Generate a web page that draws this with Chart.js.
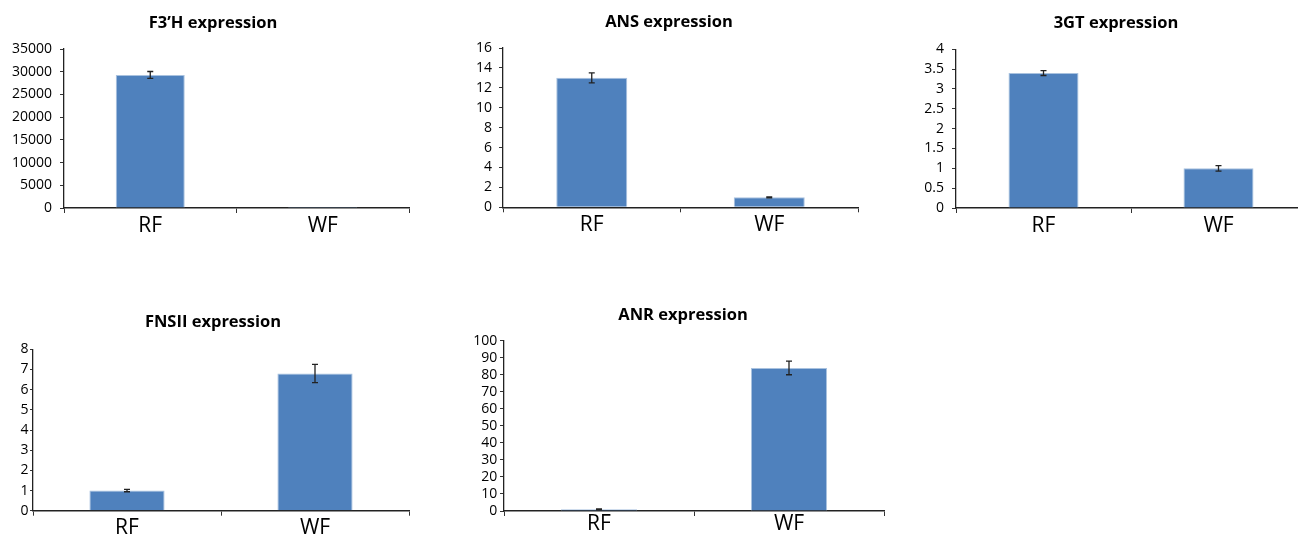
<!DOCTYPE html>
<html>
<head>
<meta charset="utf-8">
<script src="https://cdn.jsdelivr.net/npm/chart.js@4"></script>
<style>
  html, body { margin: 0; padding: 0; background: #fff; overflow: hidden; width: 1298px; height: 534px; }
  canvas { position: absolute; }
</style>
</head>
<body>
<canvas id="f3h"></canvas>
<canvas id="ans"></canvas>
<canvas id="gt3"></canvas>
<canvas id="fns"></canvas>
<canvas id="anr"></canvas>
<script>
// data (relative expression, WF or RF = 1)
const categories = ['RF', 'WF'];

const f3hValues = [29300, 1];
const f3hErrors = [750, 0];
const f3hTicks = { max: 35000, step: 5000 };

const ansValues = [13, 1];
const ansErrors = [0.5, 0.05];
const ansTicks = { max: 16, step: 2 };

const gt3Values = [3.4, 1];
const gt3Errors = [0.06, 0.07];
const gt3Ticks = { max: 4, step: 0.5 };

const fnsValues = [1, 6.8];
const fnsErrors = [0.06, 0.45];
const fnsTicks = { max: 8, step: 1 };

const anrValues = [1, 84];
const anrErrors = [0.3, 4];
const anrTicks = { max: 100, step: 10 };

Chart.defaults.font.family = "'Open Sans', 'DejaVu Sans', sans-serif";
Chart.defaults.color = '#000';

// draws mean +/- error whiskers on top of each bar
const errorBars = {
    id: 'errorBars',
    afterDatasetsDraw: function (chart) {
        const ctx = chart.ctx;
        const y = chart.scales.y;
        const ds = chart.data.datasets[0];
        ctx.save();
        ctx.strokeStyle = '#222';
        ctx.lineWidth = 1.3;
        chart.getDatasetMeta(0).data.forEach(function (bar, i) {
            if (!ds.errors[i]) return;
            const top = y.getPixelForValue(ds.data[i] + ds.errors[i]);
            const bot = y.getPixelForValue(ds.data[i] - ds.errors[i]);
            ctx.beginPath();
            ctx.moveTo(bar.x, top);
            ctx.lineTo(bar.x, bot);
            ctx.moveTo(bar.x - 3, top);
            ctx.lineTo(bar.x + 3, top);
            ctx.moveTo(bar.x - 3, bot);
            ctx.lineTo(bar.x + 3, bot);
            ctx.stroke();
        });
        ctx.restore();
    }
};

function makeChart(id, title, values, errors, ticks, box) {
    const canvas = document.getElementById(id);
    canvas.width = box.width;
    canvas.height = box.height;
    canvas.style.left = box.left + 'px';
    canvas.style.top = box.top + 'px';

    const titleSize = 16.5;
    const titleLine = titleSize * 1.2;
    const padTop = box.titleY - box.top - titleLine / 2;
    const padBottom = box.plotT - box.top - padTop - titleLine;

    return new Chart(canvas, {
        type: 'bar',
        data: {
            labels: categories,
            datasets: [{
                data: values,
                errors: errors,
                backgroundColor: '#4F81BD',
                borderColor: '#A9C2DF',
                borderWidth: 1,
                barPercentage: 0.4,
                categoryPercentage: 1,
            }]
        },
        options: {
            responsive: false,
            animation: false,
            layout: { padding: 0 },
            plugins: {
                legend: { display: false },
                tooltip: { enabled: false },
                title: {
                    display: true,
                    text: title,
                    color: '#000',
                    font: { size: titleSize, weight: 'bold', lineHeight: 1.2 },
                    padding: { top: padTop, bottom: padBottom },
                },
            },
            scales: {
                x: {
                    grid: {
                        offset: true,
                        drawOnChartArea: false,
                        tickLength: 5,
                        color: '#333',
                    },
                    border: { color: '#222', width: 1.6 },
                    ticks: {
                        font: { size: 21, lineHeight: 1 },
                        padding: box.xPad,
                        color: '#000',
                    },
                    afterFit: function (s) { s.height = box.top + box.height - box.plotB; },
                },
                y: {
                    min: 0,
                    max: ticks.max,
                    grid: {
                        drawOnChartArea: false,
                        tickLength: box.yTick,
                        color: '#333',
                    },
                    border: { color: '#222', width: 1.3 },
                    ticks: {
                        stepSize: ticks.step,
                        autoSkip: false,
                        font: { size: 14 },
                        padding: box.yPad,
                        color: '#000',
                        callback: function (v) { return String(v); },
                    },
                    afterFit: function (s) { s.width = box.plotL - box.left; },
                },
                pad: {
                    position: 'right',
                    ticks: { display: false },
                    grid: { display: false },
                    border: { display: false },
                    afterFit: function (s) { s.width = box.left + box.width - box.plotR; },
                },
            },
        },
        plugins: [errorBars],
    });
}

makeChart('f3h', 'F3’H expression', f3hValues, f3hErrors, f3hTicks,
    { left: 5, top: 0, width: 416, height: 245, plotL: 64, plotT: 49, plotR: 409, plotB: 208, titleY: 23, xPad: 3, yTick: 4, yPad: 8 });
makeChart('ans', 'ANS expression', ansValues, ansErrors, ansTicks,
    { left: 450, top: 0, width: 438, height: 245, plotL: 503, plotT: 48, plotR: 858, plotB: 207.3, titleY: 22.7, xPad: 2, yTick: 4, yPad: 7 });
makeChart('gt3', '3GT expression', gt3Values, gt3Errors, gt3Ticks,
    { left: 918, top: 0, width: 396, height: 245, plotL: 956, plotT: 49.3, plotR: 1306, plotB: 208, titleY: 23.5, xPad: 3, yTick: 4, yPad: 8 });
makeChart('fns', 'FNSII expression', fnsValues, fnsErrors, fnsTicks,
    { left: 5, top: 300, width: 416, height: 234, plotL: 33, plotT: 349.3, plotR: 409, plotB: 510.7, titleY: 322.5, xPad: 2, yTick: 3, yPad: 1.5 });
makeChart('anr', 'ANR expression', anrValues, anrErrors, anrTicks,
    { left: 462, top: 295, width: 442, height: 239, plotL: 504, plotT: 340.7, plotR: 884, plotB: 511, titleY: 315.7, xPad: -2.5, yTick: 4, yPad: 2.7 });
</script>
</body>
</html>
